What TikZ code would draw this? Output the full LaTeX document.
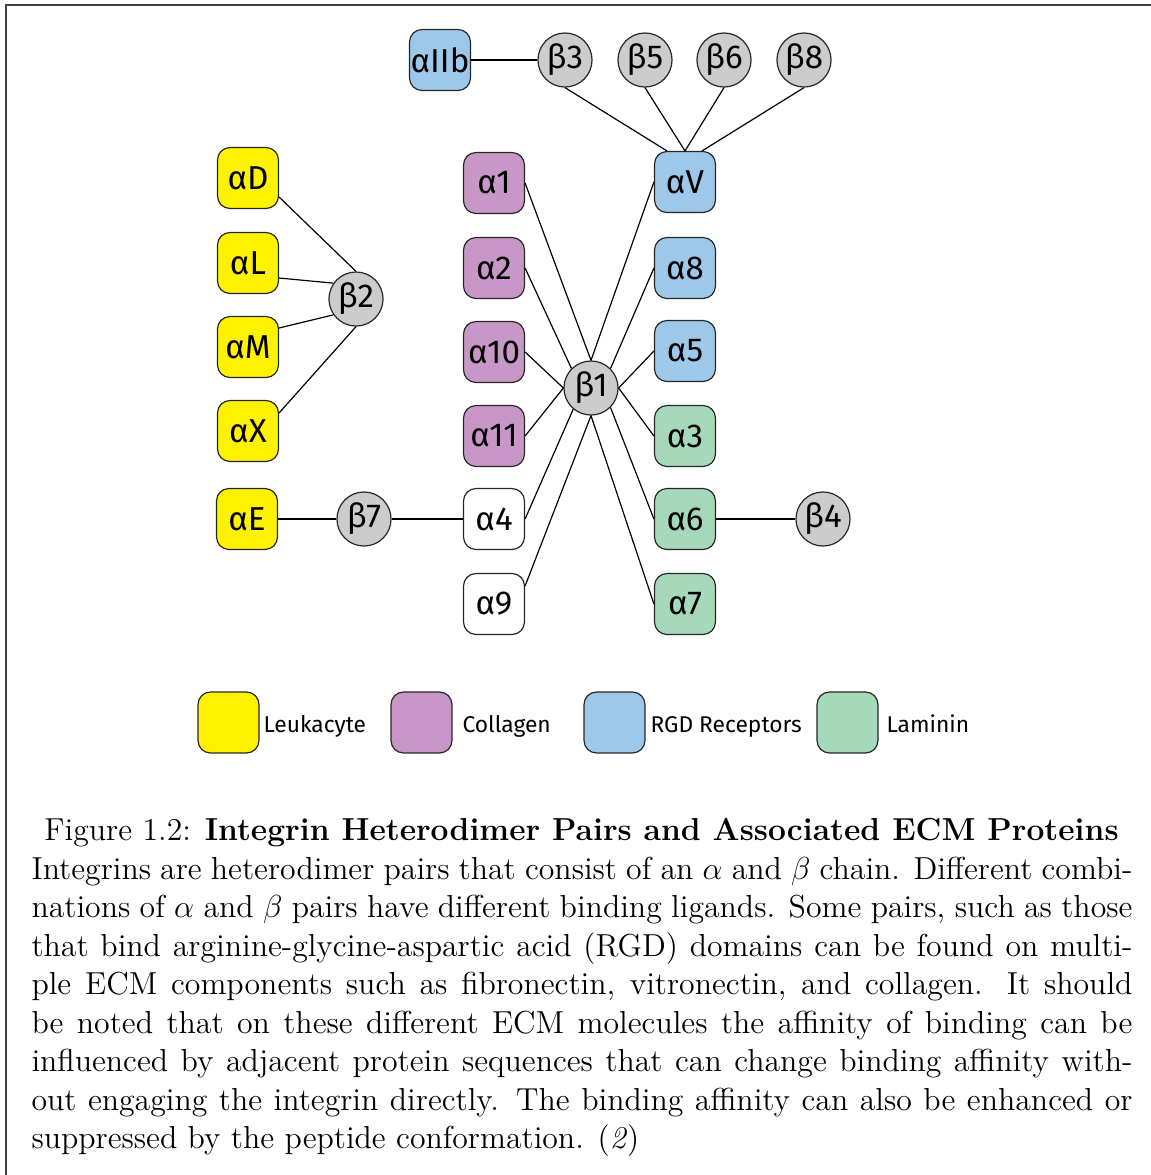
\documentclass[tikz,border=0pt]{standalone}
\usepackage{fontspec}
\usetikzlibrary{calc}
\newfontfamily\labfont{Fira Sans}
\definecolor{leuk}{RGB}{255,242,0}
\definecolor{coll}{RGB}{201,151,199}
\definecolor{rgd}{RGB}{157,200,234}
\definecolor{lam}{RGB}{166,216,186}
\definecolor{betag}{RGB}{204,204,204}
\begin{document}
\begin{tikzpicture}[x=0.3773pt,y=-0.3773pt,
  abox/.style={draw=black!85, line width=0.45pt, rounded corners=4.7pt,
    minimum width=23pt, minimum height=23pt, inner sep=0pt,
    font=\labfont\fontsize{12.5}{13}\selectfont},
  bcirc/.style={circle, draw=black!85, fill=betag, line width=0.45pt,
    minimum size=20.4pt, inner sep=0pt, font=\labfont\fontsize{12.5}{13}\selectfont},
  link/.style={line width=0.45pt, black},
  legtext/.style={anchor=base west, inner sep=0pt, font=\labfont\fontsize{8.6}{10}\selectfont},
  captext/.style={inner sep=0pt, font=\fontsize{12}{14.5}\selectfont}]
\useasboundingbox (0,0) rectangle (1151,1175);
\draw[line width=0.8pt, black!75] (6,1175) -- (6,5) -- (1151,5);

% alpha boxes
\node[abox,fill=leuk] (aD) at (248,178) {αD};
\node[abox,fill=leuk] (aL) at (248,263) {αL};
\node[abox,fill=leuk] (aM) at (248,347) {αM};
\node[abox,fill=leuk] (aX) at (248,431) {αX};
\node[abox,fill=leuk] (aE) at (247,519) {αE};
\node[abox,fill=coll] (a1) at (494,183) {α1};
\node[abox,fill=coll] (a2) at (494,268) {α2};
\node[abox,fill=coll] (a10) at (494,352) {α10};
\node[abox,fill=coll] (a11) at (494,436) {α11};
\node[abox,fill=white] (a4) at (494,519) {α4};
\node[abox,fill=white] (a9) at (494,604) {α9};
\node[abox,fill=rgd] (aV) at (685,182) {αV};
\node[abox,fill=rgd] (a8) at (685,268) {α8};
\node[abox,fill=rgd] (a5) at (685,351) {α5};
\node[abox,fill=lam] (a3) at (685,436) {α3};
\node[abox,fill=lam] (a6) at (685,519) {α6};
\node[abox,fill=lam] (a7) at (685,604) {α7};
\node[abox,fill=rgd] (aIIb) at (440,60) {αIIb};

% beta circles
\node[bcirc] (b2) at (356,299) {β2};
\node[bcirc] (b7) at (364,519) {β7};
\node[bcirc] (b1) at (591,388) {β1};
\node[bcirc] (b4) at (823,519) {β4};
\node[bcirc] (b3) at (565,60) {β3};
\node[bcirc] (b5) at (645,60) {β5};
\node[bcirc] (b6) at (724,60) {β6};
\node[bcirc] (b8) at (804,60) {β8};

% beta2 links
\draw[link] ($(aD.east)+(0,19)$) -- (b2.north);
\draw[link] ($(aL.east)+(0,15)$) -- (b2.145);
\draw[link] ($(aM.east)+(0,-19)$) -- (b2.215);
\draw[link] ($(aX.east)+(0,-18)$) -- (b2.south);

% beta1 links
\draw[link] (a1.east) -- (b1.north);
\draw[link] (a2.east) -- (b1.north west);
\draw[link] (a10.east) -- (b1.west);
\draw[link] (a11.east) -- (b1.west);
\draw[link] (a4.east) -- (b1.230);
\draw[link] ($(a9.east)+(0,-18)$) -- (b1.south);
\draw[link] (aV.west) -- (b1.north);
\draw[link] (a8.west) -- (b1.north east);
\draw[link] (a5.west) -- (b1.east);
\draw[link] (a3.west) -- (b1.east);
\draw[link] (a6.west) -- (b1.south east);
\draw[link] (a7.west) -- (b1.south);

% alphaV links
\draw[link] (b3.south) -- ($(aV.north)+(-18,0)$);
\draw[link] (b5.south) -- (aV.north);
\draw[link] (b6.south) -- (aV.north);
\draw[link] (b8.south) -- ($(aV.north)+(17,0)$);

% horizontal links
\draw[link] (aIIb.east) -- (b3.west);
\draw[link] (aE.east) -- (b7.west);
\draw[link] (b7.east) -- (a4.west);
\draw[link] (a6.east) -- (b4.west);

% legend
\node[abox,fill=leuk] (kL) at (228.5,722.5) {};
\node[abox,fill=coll] (kC) at (421.5,722.5) {};
\node[abox,fill=rgd] (kR) at (614.5,722.5) {};
\node[abox,fill=lam] (kM) at (847.5,722.5) {};
\node[legtext] (tL) at (263,732) {Leukacyte};
\node[legtext] (tC) at (462,732) {Collagen};
\node[legtext] (tR) at (650,732) {RGD Receptors};
\node[legtext] (tM) at (886,732) {Laminin};

% caption
\node[captext, anchor=base] (title) at (581.5,840)
  {Figure 1.2: \textbf{Integrin Heterodimer Pairs and Associated ECM Proteins}};
\node[captext, anchor=north west, text width=415.4pt, align=justify] (body) at (31,852)
  {\strut Integrins are heterodimer pairs that consist of an $\alpha$ and $\beta$ chain. Different combi-\linebreak
   nations of $\alpha$ and $\beta$ pairs have different binding ligands. Some pairs, such as those\linebreak
   that bind arginine-glycine-aspartic acid (RGD) domains can be found on multi-\linebreak
   ple ECM components such as fibronectin, vitronectin, and collagen.  It should\linebreak
   be noted that on these different ECM molecules the affinity of binding can be\linebreak
   influenced by adjacent protein sequences that can change binding affinity with-\linebreak
   out engaging the integrin directly. The binding affinity can also be enhanced or\linebreak
   suppressed by the peptide conformation. (\textit{2})};
\end{tikzpicture}
\end{document}
